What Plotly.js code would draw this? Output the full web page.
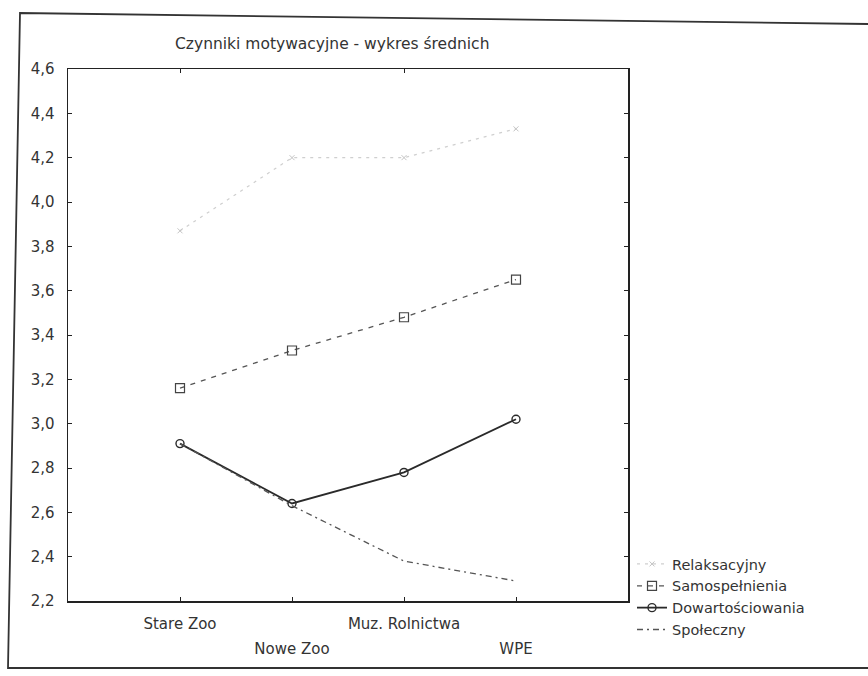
<!DOCTYPE html>
<html>
<head>
<meta charset="utf-8">
<script src="https://cdn.plot.ly/plotly-3.0.1.min.js"></script>
<style>html,body{margin:0;padding:0;background:#fff;}#chart{width:868px;height:676px;}</style>
</head>
<body>
<div id="chart"></div>
<script>
// Data
var categories = ["Stare Zoo", "Nowe Zoo", "Muz. Rolnictwa", "WPE"];
var relaksacyjny = [3.87, 4.20, 4.20, 4.33];
var samospelnienia = [3.16, 3.33, 3.48, 3.65];
var dowartosciowania = [2.91, 2.64, 2.78, 3.02];
var spoleczny = [2.91, 2.63, 2.38, 2.29];
var seriesNames = ["Relaksacyjny", "Samospełnienia", "Dowartościowania", "Społeczny"];
var yTicks = [2.2, 2.4, 2.6, 2.8, 3.0, 3.2, 3.4, 3.6, 3.8, 4.0, 4.2, 4.4, 4.6];
var titleText = "Czynniki motywacyjne - wykres średnich";

var pos = categories.map(function (c, i) { return i; });
var FONT = "DejaVu Sans, Liberation Sans, Arial, sans-serif";
var TXT = "#333333";

var traces = [
  {
    x: pos, y: relaksacyjny, name: seriesNames[0], mode: "lines+markers",
    line: {color: "#cfcfcf", width: 1.2, dash: "3px,5px"},
    marker: {symbol: "x-thin-open", size: 5, color: "#c4c4c4", line: {color: "#c4c4c4", width: 1}}
  },
  {
    x: pos, y: samospelnienia, name: seriesNames[1], mode: "lines+markers",
    line: {color: "#555555", width: 1.3, dash: "5px,6px"},
    marker: {symbol: "square-open", size: 9, color: "#444444", line: {color: "#444444", width: 1.2}}
  },
  {
    x: pos, y: dowartosciowania, name: seriesNames[2], mode: "lines+markers",
    line: {color: "#2a2a2a", width: 1.8},
    marker: {symbol: "circle-open", size: 8, color: "#2a2a2a", line: {color: "#2a2a2a", width: 1.4}}
  },
  {
    x: pos, y: spoleczny, name: seriesNames[3], mode: "lines",
    line: {color: "#555555", width: 1.3, dash: "6px,4px,2px,4px"}
  },
  {x: [], y: [], xaxis: "x2", showlegend: false, hoverinfo: "skip"}
];

var rowA = [], rowB = [], rowAt = [], rowBt = [];
categories.forEach(function (c, i) {
  if (i % 2 === 0) { rowA.push(i); rowAt.push(c); } else { rowB.push(i); rowBt.push(c); }
});

var px = function (v) { return (v - 68) / 560; };
var py = function (v) { return (601 - v) / 532; };

var layout = {
  width: 868, height: 676,
  margin: {l: 68, r: 240, t: 69, b: 75},
  paper_bgcolor: "#ffffff", plot_bgcolor: "#ffffff",
  separators: ", ",
  font: {family: FONT, color: TXT, size: 14},
  showlegend: true,
  title: {
    text: titleText, font: {family: FONT, size: 15.5, color: TXT},
    xref: "paper", x: px(175), xanchor: "left",
    yref: "container", y: 1 - 44 / 676, yanchor: "middle"
  },
  xaxis: {
    range: [-1, 4], tickmode: "array", tickvals: rowA, ticktext: rowAt,
    showgrid: false, zeroline: false, showline: true, mirror: "ticks",
    linecolor: "#222222", linewidth: 1.5,
    ticks: "inside", ticklen: 4, tickcolor: "#222222",
    ticklabelstandoff: 8,
    tickfont: {family: FONT, size: 15, color: TXT}, fixedrange: true
  },
  xaxis2: {
    overlaying: "x", matches: "x", side: "bottom", anchor: "y",
    range: [-1, 4], tickmode: "array", tickvals: rowB, ticktext: rowBt,
    showgrid: false, zeroline: false, showline: false,
    ticks: "inside", ticklen: 4, tickcolor: "#222222",
    ticklabelstandoff: 37,
    tickfont: {family: FONT, size: 15, color: TXT}, fixedrange: true
  },
  yaxis: {
    range: [2.2, 4.6], tickmode: "array", tickvals: yTicks,
    tickformat: ".1f",
    showgrid: false, zeroline: false, showline: true, mirror: "ticks",
    linecolor: "#222222", linewidth: 1.5,
    ticks: "inside", ticklen: 4, tickcolor: "#222222",
    ticklabelstandoff: 9,
    tickfont: {family: FONT, size: 15, color: TXT}, fixedrange: true
  },
  legend: {
    x: px(632), xanchor: "left", y: py(548), yanchor: "top",
    bgcolor: "rgba(0,0,0,0)", borderwidth: 0,
    font: {family: FONT, size: 14.5, color: TXT},
    tracegroupgap: 0, itemwidth: 30
  },
  shapes: [
    {
      type: "path", xref: "paper", yref: "paper",
      path: "M " + px(868) + "," + py(24) + " L " + px(20) + "," + py(13) +
            " L " + px(8) + "," + py(668) + " L " + px(868) + "," + py(668),
      line: {color: "#333333", width: 1.8}
    }
  ]
};

Plotly.newPlot("chart", traces, layout, {displayModeBar: false, staticPlot: true});
</script>
</body>
</html>
